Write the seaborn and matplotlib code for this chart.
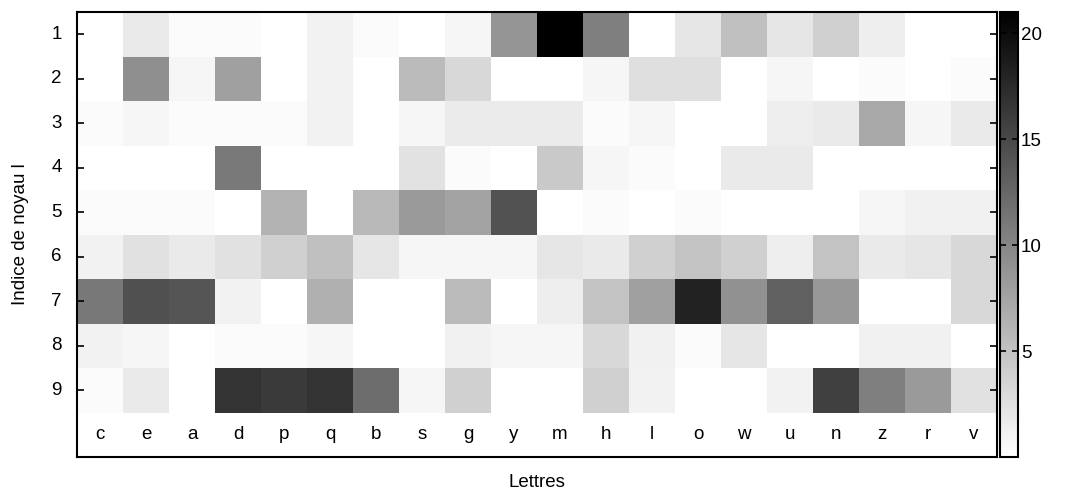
import numpy as np
import pandas as pd
import matplotlib
matplotlib.use("Agg")
import matplotlib.pyplot as plt
import seaborn as sns
from matplotlib.colors import LinearSegmentedColormap

letters = ["c", "e", "a", "d", "p", "q", "b", "s", "g", "y",
           "m", "h", "l", "o", "w", "u", "n", "z", "r", "v"]
noyaux = [1, 2, 3, 4, 5, 6, 7, 8, 9]

# one list per kernel index (row), values
row1 = [0, 1.8, 0.4, 0.4, 0, 1.1, 0.4, 0, 0.8, 8.7, 21, 10.5, 0, 2.1, 5.2, 2.1, 3.9, 1.4, 0, 0]
row2 = [0, 9.2, 0.8, 7.8, 0, 1.1, 0, 5.6, 3.2, 0, 0, 0.8, 2.7, 2.7, 0, 0.8, 0, 0.4, 0, 0.4]
row3 = [0.4, 0.8, 0.4, 0.4, 0.4, 1.1, 0, 0.8, 1.7, 1.7, 1.7, 0.4, 0.8, 0, 0, 1.4, 1.8, 7.2, 0.8, 1.8]
row4 = [0, 0, 0, 11.0, 0, 0, 0, 2.4, 0.4, 0, 4.5, 0.8, 0.4, 0, 1.8, 1.8, 0, 0, 0, 0]
row5 = [0.4, 0.4, 0.4, 0, 6.3, 0, 5.8, 8.3, 7.6, 14.2, 0, 0.4, 0, 0.4, 0, 0, 0, 0.8, 1.2, 1.2]
row6 = [1.1, 2.5, 1.8, 2.5, 3.9, 5.2, 2.1, 0.8, 0.8, 0.8, 2.1, 1.8, 3.9, 5.0, 3.9, 1.4, 5.0, 1.8, 2.1, 3.2]
row7 = [11.1, 14.4, 14.0, 1.1, 0, 6.5, 0, 0, 5.6, 0, 1.4, 5.0, 7.9, 18.2, 9.1, 13.1, 8.5, 0, 0, 3.2]
row8 = [1.1, 0.8, 0, 0.4, 0.4, 0.8, 0, 0, 1.2, 0.8, 0.8, 3.2, 1.2, 0.4, 2.1, 0, 0, 1.2, 1.2, 0]
row9 = [0.4, 1.8, 0, 16.8, 16.2, 16.8, 12.0, 0.8, 3.9, 0, 0, 3.9, 1.1, 0, 0, 1.1, 15.7, 10.5, 8.3, 2.5]

df = pd.DataFrame([row1, row2, row3, row4, row5, row6, row7, row8, row9],
                  index=noyaux, columns=letters)

plt.rcParams["font.family"] = ["Liberation Sans", "DejaVu Sans"]
FS = 13.5

W, H = 1066, 497
fig = plt.figure(figsize=(W / 100, H / 100), dpi=100)
ax = fig.add_axes([77 / W, 40 / H, 920 / W, 445 / H])
cax = fig.add_axes([1000 / W, 40 / H, 18 / W, 445 / H])

cmap = LinearSegmentedColormap.from_list("blanc_noir", ["white", "black"])
sns.heatmap(df, ax=ax, cbar_ax=cax, cmap=cmap, vmin=0, vmax=21,
            xticklabels=False, yticklabels=noyaux)

# extra empty band at the bottom holds the letter labels
ax.set_ylim(10, 0)
for j, lab in enumerate(letters):
    ax.text(j + 0.5, 9.5, lab, ha="center", va="center", fontsize=FS)

ax.tick_params(axis="y", direction="in", left=True, right=True, length=5,
               width=1.2, labelsize=FS, rotation=0, pad=11)
ax.tick_params(axis="x", bottom=False)
for s in ax.spines.values():
    s.set_visible(True)
    s.set_linewidth(1.5)
    s.set_color("black")

ax.set_xlabel("Lettres", fontsize=FS, labelpad=12)
ax.set_ylabel("Indice de noyau l", fontsize=FS, labelpad=16)

cbar = ax.collections[0].colorbar
cbar.set_ticks([5, 10, 15, 20])
cbar.outline.set_visible(True)
cbar.outline.set_linewidth(1.5)
cbar.outline.set_edgecolor("black")
cax.tick_params(direction="in", left=True, right=True, length=4, width=1.2,
                labelsize=FS, pad=2)

fig.savefig("out.png", dpi=100)
plt.close(fig)
